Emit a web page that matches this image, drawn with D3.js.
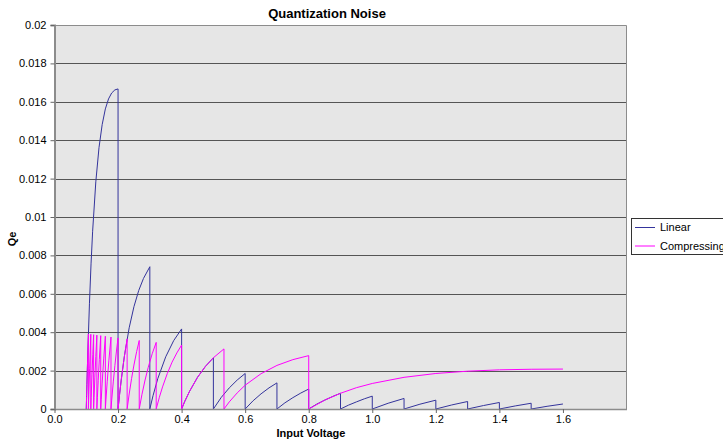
<!DOCTYPE html>
<html>
<head>
<meta charset="utf-8">
<script src="https://cdn.jsdelivr.net/npm/d3@7"></script>
<style>
  html, body { margin: 0; padding: 0; background: #ffffff; }
  svg { display: block; font-family: "Liberation Sans", Arial, sans-serif; }
</style>
</head>
<body>
<svg id="chart" width="723" height="445"></svg>
<script>
// ---- Data ----
const seriesNames = ["Linear", "Compressing"];

const linearX = [
  0.1, 0.102, 0.105, 0.11, 0.115, 0.12, 0.13, 0.14, 0.15, 0.16, 0.17, 0.18, 0.19, 0.2, 0.2,
  0.205, 0.21, 0.22, 0.235, 0.25, 0.265, 0.28, 0.3, 0.3,
  0.31, 0.325, 0.35, 0.375, 0.4, 0.4,
  0.41, 0.425, 0.45, 0.475, 0.5, 0.5,
  0.525, 0.55, 0.575, 0.6, 0.6,
  0.625, 0.65, 0.675, 0.7, 0.7,
  0.725, 0.75, 0.775, 0.8, 0.8,
  0.825, 0.85, 0.875, 0.9, 0.9,
  0.925, 0.95, 0.975, 1.0, 1.0,
  1.05, 1.1, 1.1,
  1.15, 1.2, 1.2,
  1.25, 1.3, 1.3,
  1.35, 1.4, 1.4,
  1.45, 1.5, 1.5,
  1.55, 1.6
];
const linearQe = [
  0, 0.00128, 0.00302, 0.00551, 0.00756, 0.00926, 0.01183, 0.01361, 0.01481, 0.01563, 0.01615, 0.01646, 0.01662, 0.01667, 0,
  0.00079, 0.00151, 0.00276, 0.00423, 0.00533, 0.00617, 0.0068, 0.00741, 0,
  0.00069, 0.00158, 0.00272, 0.00356, 0.00417, 0,
  0.0004, 0.00092, 0.00165, 0.00222, 0.00267, 0,
  0.00061, 0.0011, 0.00151, 0.00185, 0,
  0.00043, 0.00079, 0.0011, 0.00136, 0,
  0.00032, 0.00059, 0.00083, 0.00104, 0,
  0.00025, 0.00046, 0.00065, 0.00082, 0,
  0.0002, 0.00037, 0.00053, 0.00067, 0,
  0.0003, 0.00055, 0,
  0.00025, 0.00046, 0,
  0.00021, 0.00039, 0,
  0.00018, 0.00034, 0,
  0.00016, 0.0003, 0,
  0.00014, 0.00026
];

const compX = [
  0.1, 0.101, 0.103, 0.10667, 0.10667,
  0.108, 0.1105, 0.11429, 0.11429,
  0.1155, 0.118, 0.1205, 0.12308, 0.12308,
  0.1245, 0.127, 0.13, 0.13333, 0.13333,
  0.135, 0.1375, 0.141, 0.14545, 0.14545,
  0.147, 0.15, 0.155, 0.16, 0.16,
  0.162, 0.166, 0.171, 0.17778, 0.17778,
  0.18, 0.185, 0.19, 0.195, 0.2, 0.2,
  0.205, 0.21, 0.2175, 0.223, 0.22857, 0.22857,
  0.235, 0.2425, 0.25, 0.2585, 0.26667, 0.26667,
  0.275, 0.285, 0.295, 0.3075, 0.32, 0.32,
  0.33, 0.34, 0.355, 0.37, 0.385, 0.4, 0.4,
  0.41, 0.425, 0.45, 0.475, 0.5, 0.53333, 0.53333,
  0.55, 0.575, 0.6, 0.65, 0.7, 0.75, 0.8, 0.8,
  0.85, 0.9, 0.95, 1.0, 1.1, 1.2, 1.3, 1.4, 1.5, 1.6
];
const compQe = [
  0, 0.00065, 0.00189, 0.00391, 0,
  0.00076, 0.00209, 0.00389, 0,
  0.00061, 0.00178, 0.00285, 0.00387, 0,
  0.00061, 0.00162, 0.00273, 0.00385, 0,
  0.00061, 0.00147, 0.00257, 0.00382, 0,
  0.00048, 0.00135, 0.00265, 0.00379, 0,
  0.00051, 0.00145, 0.00251, 0.00375, 0,
  0.00046, 0.00141, 0.00226, 0.00302, 0.0037, 0,
  0.00079, 0.00151, 0.00247, 0.00308, 0.00365, 0,
  0.00078, 0.00158, 0.00229, 0.00299, 0.00357, 0,
  0.00074, 0.00151, 0.00217, 0.00288, 0.00347, 0,
  0.00061, 0.00115, 0.00185, 0.00244, 0.00292, 0.00333, 0,
  0.0004, 0.00092, 0.00165, 0.00222, 0.00267, 0.00313, 0,
  0.00037, 0.00084, 0.00124, 0.00184, 0.00227, 0.00257, 0.00278, 0,
  0.00046, 0.00082, 0.00111, 0.00133, 0.00165, 0.00185, 0.00197, 0.00204, 0.00207, 0.00208
];

const xTickValues = [0, 0.2, 0.4, 0.6, 0.8, 1.0, 1.2, 1.4, 1.6];
const xTickLabels = ["0.0", "0.2", "0.4", "0.6", "0.8", "1.0", "1.2", "1.4", "1.6"];
const yTickValues = [0, 0.002, 0.004, 0.006, 0.008, 0.01, 0.012, 0.014, 0.016, 0.018, 0.02];
const yTickLabels = ["0", "0.002", "0.004", "0.006", "0.008", "0.01", "0.012", "0.014", "0.016", "0.018", "0.02"];

const titleText = "Quantization Noise";
const xTitle = "Input Voltage";
const yTitle = "Qe";

// ---- Layout ----
const svg = d3.select("#chart");
const plot = { left: 54.5, right: 626.5, top: 25, bottom: 409 };
const x = d3.scaleLinear().domain([0, 1.8]).range([plot.left, plot.right]);
const y = d3.scaleLinear().domain([0, 0.02]).range([plot.bottom, plot.top]);

// plot background
svg.append("rect")
  .attr("x", plot.left).attr("y", plot.top)
  .attr("width", plot.right - plot.left).attr("height", plot.bottom - plot.top)
  .attr("fill", "#e6e6e6");

// gridlines
svg.append("g")
  .selectAll("line")
  .data(yTickValues.filter(v => v > 0 && v < 0.02))
  .join("line")
  .attr("x1", plot.left).attr("x2", plot.right)
  .attr("y1", d => Math.round(y(d)) + 0.5).attr("y2", d => Math.round(y(d)) + 0.5)
  .attr("stroke", "#555555").attr("stroke-width", 1);

// plot border (top / right)
svg.append("path")
  .attr("d", `M${plot.left},${plot.top + 0.5}H${plot.right}V${plot.bottom}`)
  .attr("fill", "none").attr("stroke", "#8c8c8c").attr("stroke-width", 1);

// series
const line = d3.line().x(d => x(d[0])).y(d => y(d[1]));
const linearPts = linearX.map((v, i) => [v, linearQe[i]]);
const compPts = compX.map((v, i) => [v, compQe[i]]);
const seriesColors = ["#34349c", "#ff00ff"];

svg.append("path").datum(linearPts)
  .attr("d", line).attr("fill", "none")
  .attr("stroke", seriesColors[0]).attr("stroke-width", 1);
svg.append("path").datum(compPts)
  .attr("d", line).attr("fill", "none")
  .attr("stroke", seriesColors[1]).attr("stroke-width", 1);

// Y axis
const yAxis = d3.axisLeft(y).tickValues(yTickValues)
  .tickFormat((d, i) => yTickLabels[i]).tickSize(4).tickPadding(4);
const gy = svg.append("g").attr("transform", `translate(${plot.left},0)`).call(yAxis);
gy.select(".domain").attr("stroke", "#8c8c8c").attr("stroke-width", 2);
gy.selectAll(".tick line").attr("stroke", "#666666");
gy.selectAll(".tick text").attr("font-size", 11).attr("fill", "#000")
  .attr("font-family", "Liberation Sans, Arial, sans-serif");

// X axis
const xAxis = d3.axisBottom(x).tickValues(xTickValues)
  .tickFormat((d, i) => xTickLabels[i]).tickSize(4).tickPadding(2).tickSizeOuter(0);
const gx = svg.append("g").attr("transform", `translate(0,${plot.bottom})`).call(xAxis);
gx.select(".domain").attr("stroke", "#8c8c8c").attr("stroke-width", 1.5);
gx.selectAll(".tick line").attr("stroke", "#666666");
gx.selectAll(".tick text").attr("font-size", 11).attr("fill", "#000")
  .attr("font-family", "Liberation Sans, Arial, sans-serif");

// titles
svg.append("text").attr("x", 327).attr("y", 17.5)
  .attr("text-anchor", "middle").attr("font-size", 13).attr("font-weight", "bold")
  .text(titleText);
svg.append("text").attr("x", 311).attr("y", 437)
  .attr("text-anchor", "middle").attr("font-size", 11).attr("font-weight", "bold")
  .text(xTitle);
svg.append("text")
  .attr("transform", "translate(16,239) rotate(-90)")
  .attr("text-anchor", "middle").attr("font-size", 11).attr("font-weight", "bold")
  .text(yTitle);

// legend (the reference shows it running past the right edge of the image)
const lg = svg.append("g");
lg.append("rect").attr("x", 631.5).attr("y", 218.5).attr("width", 110).attr("height", 36)
  .attr("fill", "#ffffff").attr("stroke", "#333333").attr("stroke-width", 1);
const legendY = [227.5, 246];
seriesNames.forEach((name, i) => {
  lg.append("line").attr("x1", 635).attr("x2", 655)
    .attr("y1", legendY[i]).attr("y2", legendY[i])
    .attr("stroke", seriesColors[i]).attr("stroke-width", 1);
  lg.append("text").attr("x", 660).attr("y", legendY[i]).attr("dy", "0.35em")
    .attr("font-size", 11).text(name);
});
</script>
</body>
</html>
